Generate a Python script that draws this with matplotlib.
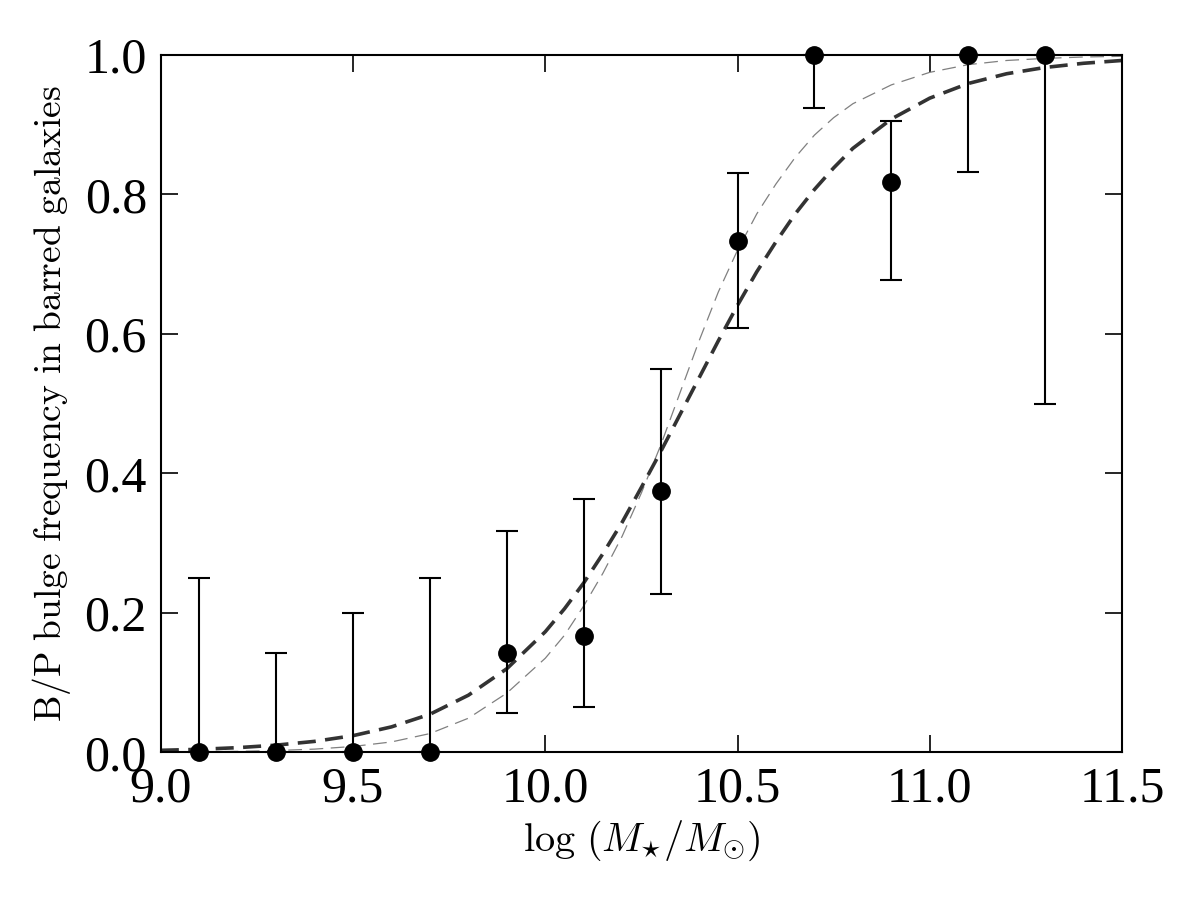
import numpy as np
import matplotlib
matplotlib.use('Agg')
import matplotlib.pyplot as plt

plt.rcParams['font.family'] = ['Liberation Serif', 'DejaVu Serif']
plt.rcParams['mathtext.fontset'] = 'cm'

# dane - czestosc B/P w galaktykach z poprzeczka
masa = [9.1, 9.3, 9.5, 9.7, 9.9, 10.1, 10.3, 10.5, 10.7, 10.9, 11.1, 11.3]
frakcja = [0.0, 0.0, 0.0, 0.0, 0.143, 0.167, 0.375, 0.733, 1.0, 0.818, 1.0, 1.0]
gora = [0.25, 0.143, 0.2, 0.25, 0.318, 0.363, 0.55, 0.831, 1.0, 0.905, 1.0, 1.0]
dol = [0.0, 0.0, 0.0, 0.0, 0.056, 0.065, 0.227, 0.608, 0.924, 0.677, 0.832, 0.50]

# krzywe dopasowania
x_fit = [9.0, 9.1, 9.2, 9.3, 9.4, 9.5, 9.6, 9.7, 9.8, 9.9, 10.0, 10.05, 10.1, 10.15,
         10.2, 10.25, 10.3, 10.35, 10.4, 10.45, 10.5, 10.55, 10.6, 10.65, 10.7, 10.75,
         10.8, 10.9, 11.0, 11.1, 11.2, 11.3, 11.4, 11.5]
fit_ciemny = [0.003, 0.0044, 0.0068, 0.0104, 0.0158, 0.024, 0.0366, 0.0547, 0.082,
              0.120, 0.173, 0.206, 0.243, 0.285, 0.330, 0.380, 0.431, 0.484, 0.537,
              0.590, 0.641, 0.689, 0.732, 0.772, 0.807, 0.838, 0.866, 0.908, 0.938,
              0.959, 0.973, 0.982, 0.988, 0.992]
fit_jasny = [0.0005, 0.0009, 0.0015, 0.0027, 0.0047, 0.0085, 0.015, 0.027, 0.049,
             0.085, 0.135, 0.168, 0.21, 0.257, 0.31, 0.372, 0.44, 0.515, 0.59,
             0.66, 0.72, 0.772, 0.815, 0.853, 0.885, 0.91, 0.93, 0.957, 0.975,
             0.986, 0.992, 0.995, 0.997, 0.998]

frakcja = np.array(frakcja)
err_low = frakcja - np.array(dol)
err_up = np.array(gora) - frakcja

fig = plt.figure(figsize=(12, 9), dpi=100)
ax = fig.add_axes([0.134, 0.164, 0.801, 0.775])

ax.plot(x_fit, fit_jasny, color='#808080', lw=0.9, dashes=(11, 6))
ax.plot(x_fit, fit_ciemny, color='#333333', lw=2.6, dashes=(5, 2.6))
ax.errorbar(masa, frakcja, yerr=[err_low, err_up], fmt='o', color='black',
            ms=12.5, elinewidth=1.5, capsize=8, capthick=1.5, clip_on=False, zorder=5)

ax.set_xlim(9.0, 11.5)
ax.set_ylim(0.0, 1.0)
ax.set_xticks([9.0, 9.5, 10.0, 10.5, 11.0, 11.5])
ax.set_yticks([0.0, 0.2, 0.4, 0.6, 0.8, 1.0])
ax.tick_params(direction='in', top=True, right=True, length=12, width=1.2,
               labelsize=36, pad=10)
for s in ax.spines.values():
    s.set_linewidth(1.5)

ax.set_xlabel(r'$\log\,(M_{\star}/M_{\odot})$', fontsize=29, labelpad=4)
ax.set_ylabel(r'$\mathrm{B/P\ bulge\ frequency\ in\ barred\ galaxies}$', fontsize=27, labelpad=8)

fig.savefig('out.png', dpi=100)
